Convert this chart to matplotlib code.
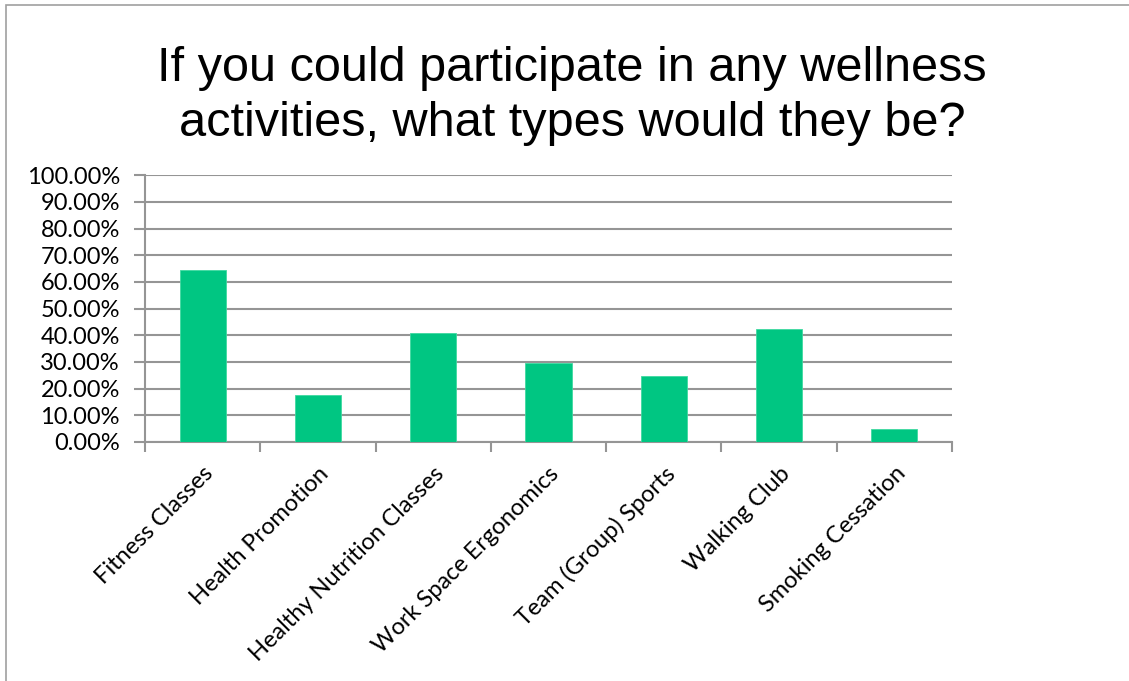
import matplotlib.pyplot as plt
from matplotlib.patches import Rectangle
from matplotlib.ticker import MultipleLocator, FuncFormatter

# Survey results: share of respondents interested in each activity
activities = ["Fitness Classes", "Health Promotion", "Healthy Nutrition Classes",
              "Work Space Ergonomics", "Team (Group) Sports", "Walking Club",
              "Smoking Cessation"]
shares = [0.644, 0.175, 0.408, 0.295, 0.248, 0.423, 0.049]

title = "If you could participate in any wellness\nactivities, what types would they be?"

bar_color = "#00C682"
grid_color = "#959595"

fig = plt.figure(figsize=(11.29, 6.81), dpi=100)

# chart area frame (left and top edges visible)
fig.patches.append(Rectangle((6 / 1129, -0.1), 1.2, 1.1 - 5 / 681,
                             transform=fig.transFigure, fill=False,
                             edgecolor="#A0A0A0", linewidth=1.2))

ax = fig.add_axes([145 / 1129, 239 / 681, 807 / 1129, 266.7 / 681])

x = range(len(activities))
ax.bar(x, shares, width=0.4, color=bar_color, edgecolor="#3FD9A0",
       linewidth=0.6, zorder=3)

ax.set_xlim(-0.5, len(activities) - 0.5)
ax.set_ylim(0, 1.0)
ax.yaxis.set_major_locator(MultipleLocator(0.1))
ax.yaxis.set_major_formatter(FuncFormatter(lambda v, p: f"{v * 100:.2f}%"))
ax.grid(axis="y", color=grid_color, linewidth=1.5, zorder=0)

# category boundaries carry the x ticks
ax.set_xticks([i - 0.5 for i in range(len(activities) + 1)], minor=False)
ax.set_xticklabels([])
ax.set_xticks(list(x), minor=True)
ax.set_xticklabels(activities, minor=True, rotation=45, ha="right",
                   rotation_mode="anchor", fontsize=17, family="Lato")
ax.tick_params(axis="x", which="minor", length=0, pad=15)
ax.tick_params(axis="x", which="major", length=7, width=1.5, color=grid_color,
               direction="out")
ax.tick_params(axis="y", length=8, width=1.5, color=grid_color, pad=10,
               labelsize=17)
for lab in ax.get_yticklabels():
    lab.set_family("Lato")

for side in ["top", "right"]:
    ax.spines[side].set_visible(False)
for side in ["left", "bottom"]:
    ax.spines[side].set_color(grid_color)
    ax.spines[side].set_linewidth(1.5)

fig.text(572 / 1129, 1 - 96 / 681, title, ha="center", va="center",
         fontsize=35, family="Liberation Sans", linespacing=1.27)

fig.savefig("out.png", dpi=100)
